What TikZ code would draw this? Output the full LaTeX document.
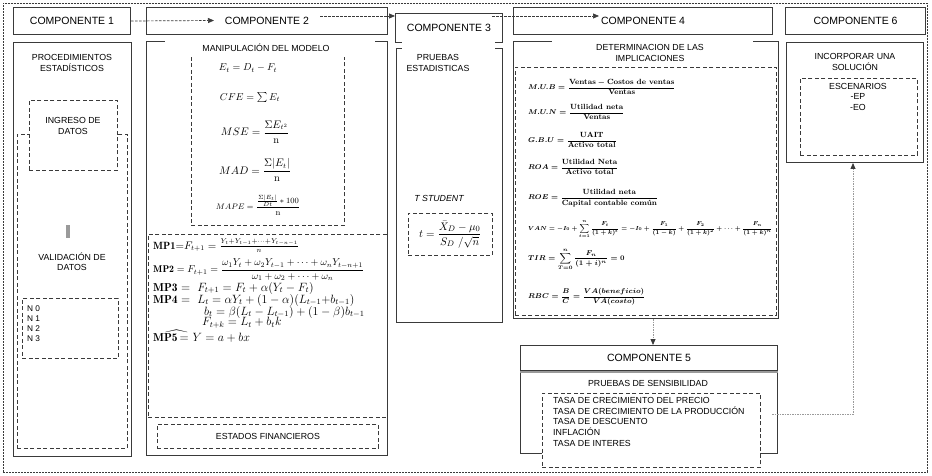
\documentclass[tikz,border=0pt]{standalone}
\usepackage{amsmath,amssymb}
\usepackage{fontspec}
\setsansfont{Liberation Sans}
\usetikzlibrary{arrows.meta}
\definecolor{ln}{HTML}{3A3A3A}
\definecolor{dl}{HTML}{9A9A9A}
\newcommand\fsz[1]{\fontsize{#1}{#1}\selectfont}
\newcommand\bfm[2]{{\fsz{#1}{\boldmath$#2$}}}
\tikzset{
  hdr/.style={draw=ln, line width=1pt, anchor=north west, inner sep=0pt, font=\sffamily\fontsize{10.5}{12}\selectfont},
  pnl/.style={draw=ln, line width=1pt, anchor=north west, inner sep=0pt},
  dbox/.style={draw=ln, line width=0.8pt, dash pattern=on 4pt off 2.5pt, anchor=north west, inner sep=0pt},
  wdbox/.style={dbox, fill=white},
  cover/.style={fill=white, anchor=north west, inner sep=0pt},
  lbl/.style={font=\sffamily\fontsize{8.8}{10.4}\selectfont, align=center, inner sep=0pt},
  fml/.style={inner sep=0pt, anchor=west},
  flow/.style={draw=ln, line width=0.7pt, dash pattern=on 2.5pt off 1.5pt, -{Triangle[length=6pt,width=5pt]}},
  dotflow/.style={draw=dl, line width=0.8pt, dash pattern=on 1.5pt off 1pt, -{Triangle[length=6pt,width=5pt,color=ln]}},
}
\begin{document}
\begin{tikzpicture}[x=1pt,y=-1pt]
\useasboundingbox (0,0) rectangle (932,476);
% outer frame
\node[draw=ln, line width=0.7pt, dash pattern=on 2pt off 1pt, anchor=north west, minimum width=924pt, minimum height=469pt, inner sep=0pt] (frame) at (3,3) {};
% headers
\node[hdr, minimum width=117pt, minimum height=27pt] (c1) at (13,7) {COMPONENTE 1};
\node[hdr, minimum width=241pt, minimum height=27pt] (c2) at (146,7) {COMPONENTE 2};
\node[hdr, minimum width=107pt, minimum height=29pt] (c3) at (395,13) {COMPONENTE 3};
\node[hdr, minimum width=259pt, minimum height=27pt] (c4) at (513,7) {COMPONENTE 4};
\node[hdr, minimum width=140pt, minimum height=27pt] (c6) at (785,7) {COMPONENTE 6};
% panels
\node[pnl, minimum width=118pt, minimum height=414pt] (p1) at (13,42) {};
\node[pnl, minimum width=241pt, minimum height=414pt] (p2) at (146,41) {};
\node[pnl, minimum width=106pt, minimum height=274pt] (p3) at (396,48) {};
\node[pnl, minimum width=265pt, minimum height=277pt] (p4) at (513,41) {};
\node[pnl, minimum width=137pt, minimum height=120pt] (p6) at (786,42) {};
\node[hdr, minimum width=257pt, minimum height=25pt] (c5) at (520,345) {COMPONENTE 5};
\node[pnl, minimum width=257pt, minimum height=81pt] (p5) at (520,372) {};
\draw[dl, line width=2pt] (p5.north west) -- (p5.north east);

% ---------- component 1
\node[lbl] (t1) at (72,63) {PROCEDIMIENTOS\\ESTADÍSTICOS};
\node[dbox, minimum width=110pt, minimum height=314pt] (val) at (17,134) {};
\node[wdbox, minimum width=88pt, minimum height=70pt] (ing) at (29,100) {};
\node[lbl] (ingt) at (73,126) {INGRESO DE\\DATOS};
\node[fill=dl, anchor=north west, minimum width=4pt, minimum height=13pt, inner sep=0pt] (gr) at (66,225) {};
\node[lbl] (valt) at (72,262) {VALIDACIÓN DE\\DATOS};
\node[dbox, minimum width=96pt, minimum height=60pt] (nb) at (22,298) {};
\node[lbl, align=left, anchor=north west, font=\sffamily\fontsize{8.3}{10}\selectfont] (nt) at (27,306) {N 0\\N 1\\N 2\\N 3};

% ---------- component 2
\node[dbox, minimum width=153pt, minimum height=175pt] (fb) at (191,50) {};
\node[dbox, minimum width=239pt, minimum height=183pt] (mpb) at (148,234) {};
\node[dbox, minimum width=221pt, minimum height=24pt, lbl] (est) at (157,424) {ESTADOS FINANCIEROS};
\node[cover, minimum width=210pt, minimum height=22pt] (cv2) at (165,35) {};
\node[lbl] (t2) at (266,48) {MANIPULACIÓN DEL MODELO};
\node[inner sep=0pt] (f1) at (248,68) {\fsz{10}$E_t = D_t - F_t$};
\node[inner sep=0pt] (f2) at (250,98) {\fsz{10}$CFE = \sum E_t$};
\node[inner sep=0pt] (f3) at (255,132) {\fsz{10.5}$MSE = \dfrac{\Sigma E_{t^2}}{\mathrm{n}}$};
\node[inner sep=0pt] (f4) at (255,170) {\fsz{10.5}$MAD = \dfrac{\Sigma|E_t|}{\mathrm{n}}$};
\node[inner sep=0pt] (f5) at (258,205) {\fsz{8.5}$MAPE = \dfrac{\frac{\Sigma|E_t|}{Dt}*100}{\mathrm{n}}$};
\node[fml] (m1) at (153,246) {\fsz{10.5}$\mathbf{MP1}{=}F_{t+1} = \frac{Y_t+Y_{t-1}+\cdots+Y_{t-n-1}}{n}$};
\node[fml] (m2) at (153,270) {\fsz{9.8}$\mathbf{MP2} = F_{t+1} = \dfrac{\omega_1 Y_t+\omega_2 Y_{t-1}+\cdots+\omega_n Y_{t-n+1}}{\omega_1+\omega_2+\cdots+\omega_n}$};
\node[fml] (m3) at (153,288) {\fsz{11.5}$\mathbf{MP3} =\ F_{t+1} = F_t + \alpha(Y_t - F_t)$};
\node[fml] (m4) at (153,300) {\fsz{11.5}$\mathbf{MP4} =\ L_t = \alpha Y_t + (1-\alpha)(L_{t-1}{+}b_{t-1})$};
\node[fml] (m4b) at (204,312) {\fsz{11.5}$b_t = \beta(L_t - L_{t-1}) + (1-\beta)b_{t-1}$};
\node[fml] (m4c) at (202,323) {\fsz{11.5}$F_{t+k} = L_t + b_t k$};
\node[fml] (m5) at (153,336) {\fsz{11.5}$\mathbf{M}\widehat{\mathbf{P5}\,{=}}\ Y = a + bx$};

% ---------- component 3
\node[cover, minimum width=93pt, minimum height=12pt] (cv3) at (402,42) {};
\node[lbl] (t3) at (438,63) {PRUEBAS\\ESTADISTICAS};
\node[lbl, font=\sffamily\itshape\fontsize{8.8}{10.4}\selectfont] (ts) at (439,198) {T STUDENT};
\node[dbox, minimum width=84pt, minimum height=42pt] (tb) at (408,213) {};
\node[inner sep=0pt] (tf) at (tb.center) {\fsz{11}$t = \dfrac{\bar{X}_D - \mu_0}{S_D\ /\sqrt{n}}$};

% ---------- component 4
\node[dbox, minimum width=261pt, minimum height=248pt] (db4) at (515,67) {};
\node[cover, minimum width=201pt, minimum height=12pt] (cv4) at (552,35) {};
\node[lbl] (t4) at (650,53) {DETERMINACION DE LAS\\IMPLICACIONES};
\node[fml] (g1) at (528,87) {\bfm{7.5}{M.U.B = \dfrac{\textbf{Ventas} - \textbf{Costos de ventas}}{\textbf{Ventas}}}};
\node[fml] (g2) at (528,112) {\bfm{7.5}{M.U.N = \dfrac{\textbf{Utilidad neta}}{\textbf{Ventas}}}};
\node[fml] (g3) at (528,140) {\bfm{7.5}{G.B.U = \dfrac{\textbf{UAIT}}{\textbf{Activo total}}}};
\node[fml] (g4) at (528,167) {\bfm{7.5}{ROA = \dfrac{\textbf{Utilidad Neta}}{\textbf{Activo total}}}};
\node[fml] (g5) at (528,198) {\bfm{7.5}{ROE = \dfrac{\textbf{Utilidad neta}}{\textbf{Capital contable común}}}};
\node[fml] (g6) at (528,229) {\resizebox{244pt}{!}{\bfm{7.5}{VAN = -I_0 + \displaystyle\sum_{t=1}^{n}\frac{F_t}{(1+k)^t} = -I_0 + \frac{F_1}{(1-k)} + \frac{F_2}{(1+k)^2} + \cdots + \frac{F_n}{(1+k)^n}}}};
\node[fml] (g7) at (528,259) {\bfm{7.5}{TIR = \displaystyle\sum_{T=0}^{n}\frac{F_n}{(1+i)^n} = 0}};
\node[fml] (g8) at (528,297) {\bfm{7.5}{RBC = \dfrac{B}{C} = \dfrac{VA(beneficio)}{VA(costo)}}};

% ---------- component 5
\node[lbl] (t5) at (648,383) {PRUEBAS DE SENSIBILIDAD};
\node[wdbox, minimum width=218pt, minimum height=74pt] (sb) at (542,393) {};
\node[lbl, align=left, anchor=north west, font=\sffamily\fontsize{8.8}{10.8}\selectfont] (sl) at (553,397) {TASA DE CRECIMIENTO DEL PRECIO\\TASA DE CRECIMIENTO DE LA PRODUCCIÓN\\TASA DE DESCUENTO\\INFLACIÓN\\TASA DE INTERES};

% ---------- component 6
\node[lbl] (t6) at (855,62) {INCORPORAR UNA\\SOLUCIÓN};
\node[dbox, minimum width=117pt, minimum height=77pt] (db6) at (800,78) {};
\node[lbl, anchor=north] (e6) at (858,83) {ESCENARIOS\\-EP\\-EO};

% ---------- connectors
\coordinate (t12) at (214,20.5);
\coordinate (s23) at (320,16);
\coordinate (s34) at (492,16);
\coordinate (t34) at (599,16);
\coordinate (x45) at (653,0);
\coordinate (s56) at (772,414);
\coordinate (x56) at (853,0);
\draw[flow] (c1.east) -- (t12);
\draw[flow] (s23) -- (c3.west |- s23);
\draw[flow] (s34) -- (t34);
\draw[dotflow] (p4.south -| x45) -- (c5.north -| x45);
\draw[dotflow] (s56) -| (p6.south -| x56);
\end{tikzpicture}
\end{document}
